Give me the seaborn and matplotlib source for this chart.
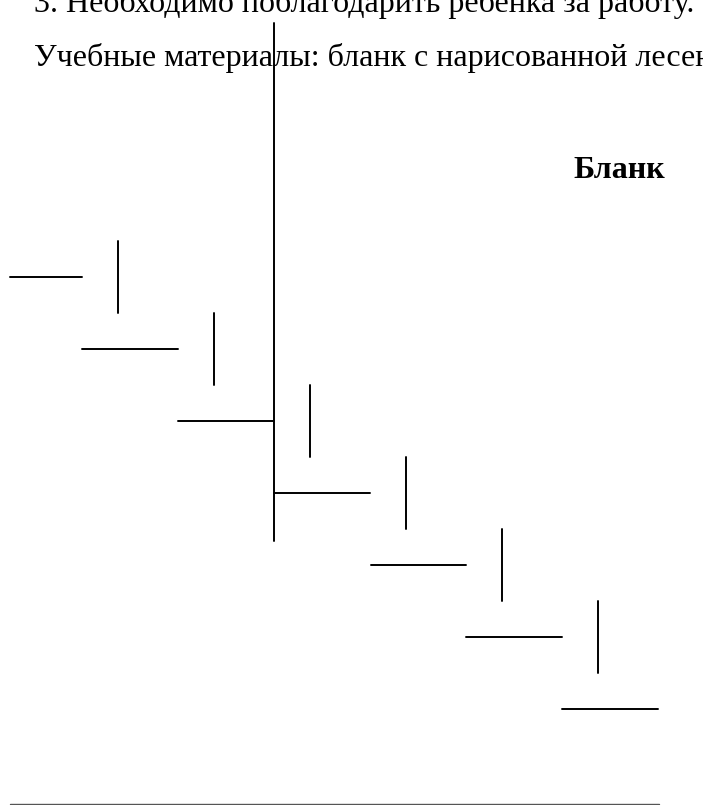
import pandas as pd
import seaborn as sns
import matplotlib.pyplot as plt

# -----------------------------
# Data: staircase on the blank (page pixel coords)
# -----------------------------

tread_x0 = [10, 82, 178, 274, 371, 466, 562]
tread_x1 = [82, 178, 274, 370, 466, 562, 658]
tread_y = [277, 349, 421, 493, 565, 637, 709]

riser_x = [118, 214, 310, 406, 502, 598]
riser_top = [241, 313, 385, 457, 529, 601]
riser_bottom = [313, 385, 457, 529, 601, 673]

pole_x = [274, 274]
pole_y = [23, 541]

rule_x = [10, 659]
rule_y = [804, 804]

line1 = "3. Необходимо поблагодарить ребенка за работу."
line2 = "Учебные материалы: бланк с нарисованной лесенкой"
title = "Бланк"

# -----------------------------
# Build segment table
# -----------------------------

rows = []
for i in range(len(tread_y)):
    rows.append({"seg": "t%d" % i, "x": tread_x0[i], "y": tread_y[i]})
    rows.append({"seg": "t%d" % i, "x": tread_x1[i], "y": tread_y[i]})
for i in range(len(riser_x)):
    rows.append({"seg": "r%d" % i, "x": riser_x[i], "y": riser_top[i]})
    rows.append({"seg": "r%d" % i, "x": riser_x[i], "y": riser_bottom[i]})
rows.append({"seg": "pole", "x": pole_x[0], "y": pole_y[0]})
rows.append({"seg": "pole", "x": pole_x[1], "y": pole_y[1]})
segs = pd.DataFrame(rows)

# -----------------------------
# Plot
# -----------------------------

sns.set_style("white")
plt.rcParams["font.family"] = ["Liberation Serif", "DejaVu Serif"]

fig = plt.figure(figsize=(7.03, 8.05), dpi=100)
ax = fig.add_axes([0, 0, 1, 1])

sns.lineplot(data=segs, x="x", y="y", units="seg", estimator=None, sort=False,
             color="black", linewidth=1.4, ax=ax)
sns.lineplot(x=rule_x, y=rule_y, color="#555555", linewidth=1.0, ax=ax)

ax.text(34, 12, line1, fontsize=23, va="baseline", ha="left", color="black")
ax.text(34, 66, line2, fontsize=23, va="baseline", ha="left", color="black")
ax.text(573, 178, title, fontsize=23, fontweight="bold", va="baseline",
        ha="left", color="black")

ax.set_xlim(0, 703)
ax.set_ylim(805, 0)
ax.axis("off")

fig.savefig("out.png", dpi=100)
